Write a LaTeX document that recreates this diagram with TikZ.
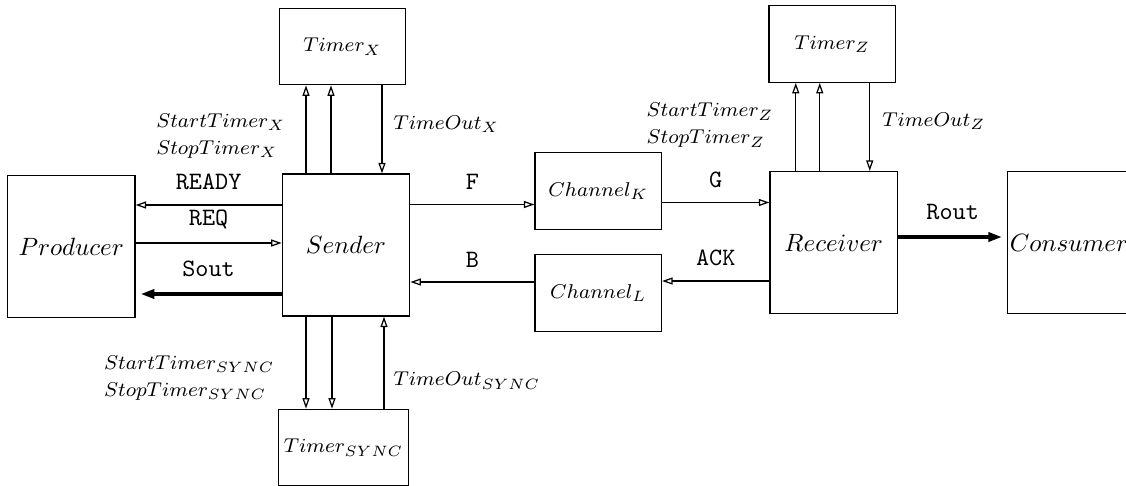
\documentclass[tikz,border=0pt]{standalone}
\usepackage{tikz}
\usetikzlibrary{positioning,arrows.meta}

\newcommand{\lblsize}{\fontsize{8.2}{10.8}\selectfont}

\begin{document}
\begin{tikzpicture}[
        node distance=35pt and 58pt,
        >={Triangle[open,length=4.2pt,width=2.8pt]},
        unit/.style={rectangle, draw=black, line width=0.5pt, minimum width=51pt, minimum height=56.8pt, inner sep=2pt},
        timer/.style={rectangle, draw=black, line width=0.5pt, minimum width=50.6pt, minimum height=30.6pt, inner sep=2pt, font=\lblsize},
        sig/.style={font=\ttfamily},
        lbl/.style={font=\lblsize, align=left, inner sep=1pt},
        arrow/.style={->, line width=0.5pt},
        bigarrow/.style={-{Triangle[length=5.5pt,width=3.6pt]}, line width=1.6pt, shorten >=2pt}
    ]

    \clip (-138.4pt,98pt) rectangle (312pt,-96pt);

    \node[unit] (sender) at (0,0) {$Sender$};
    \node[unit, left=58.4pt of sender, yshift=-0.6pt] (producer) {$Producer$};
    \node[timer, above=35.2pt of sender, xshift=-1.4pt] (timerx) {$Timer_X$};
    \node[timer, below=36.8pt of sender, xshift=-1pt] (timersync) {$Timer_{SYNC}$};

    \node[timer, right=49.6pt of sender.east, yshift=21.6pt] (chk) {$Channel_K$};
    \node[timer, right=49.6pt of sender.east, yshift=-19.2pt] (chl) {$Channel_L$};

    \node[unit, right=143.6pt of sender, yshift=1pt] (receiver) {$Receiver$};
    \node[unit, right=43.6pt of receiver, minimum width=49pt, inner xsep=0.6pt] (consumer) {$Consumer$};
    \node[timer, above=35.2pt of receiver, xshift=-0.6pt] (timerz) {$Timer_Z$};

    % sender and its timers
    \draw[arrow] ([xshift=-16pt]sender.north) coordinate (sx1) -- (sx1 |- timerx.south)
        node[lbl, midway, left=7pt, yshift=-2.6pt] {$StartTimer_X$\\$StopTimer_X$};
    \draw[arrow] ([xshift=-6pt]sender.north) coordinate (sx2) -- (sx2 |- timerx.south);
    \coordinate (sx3) at ([xshift=14.4pt]sender.north);
    \draw[arrow] (sx3 |- timerx.south) -- (sx3)
        node[lbl, midway, right=3.4pt, yshift=2pt] {$TimeOut_X$};

    \draw[arrow] ([xshift=-16pt]sender.south) coordinate (sy1) -- (sy1 |- timersync.north)
        node[lbl, midway, left=11.4pt, yshift=-6.2pt] {$StartTimer_{SYNC}$\\$StopTimer_{SYNC}$};
    \draw[arrow] ([xshift=-5.6pt]sender.south) coordinate (sy2) -- (sy2 |- timersync.north);
    \coordinate (sy3) at ([xshift=15.2pt]sender.south);
    \draw[arrow] (sy3 |- timersync.north) -- (sy3)
        node[lbl, midway, right=2.6pt, yshift=-7.2pt] {$TimeOut_{SYNC}$};

    % receiver and its timer
    \draw[arrow] ([xshift=-15.2pt]receiver.north) coordinate (rz1) -- (rz1 |- timerz.south)
        node[lbl, midway, left=7.8pt, yshift=0.6pt] {$StartTimer_Z$\\$StopTimer_Z$};
    \draw[arrow] ([xshift=-5.6pt]receiver.north) coordinate (rz2) -- (rz2 |- timerz.south);
    \coordinate (rz3) at ([xshift=14.4pt]receiver.north);
    \draw[arrow] (rz3 |- timerz.south) -- (rz3)
        node[lbl, midway, right=3.8pt, yshift=2.4pt] {$TimeOut_Z$};

    % producer and sender
    \draw[arrow] ([yshift=16pt]sender.west) coordinate (p1) -- (p1 -| producer.east)
        node[sig, midway, above=2.6pt] {READY};
    \coordinate (p2) at ([yshift=0.8pt]sender.west);
    \draw[arrow] (p2 -| producer.east) -- (p2)
        node[sig, midway, above=2pt] {REQ};
    \draw[bigarrow] ([yshift=-19.6pt]sender.west) coordinate (p3) -- (p3 -| producer.east)
        node[sig, midway, above=2.6pt] {Sout};

    % channels
    \coordinate (c1) at ([yshift=-5.4pt]chk.west);
    \draw[arrow] (c1 -| sender.east) -- (c1)
        node[sig, midway, above=2.4pt] {F};
    \draw[arrow] ([yshift=-4.6pt]chk.east) coordinate (c2) -- (c2 -| receiver.west)
        node[sig, midway, above=2.4pt] {G};
    \coordinate (c3) at ([yshift=4.8pt]chl.east);
    \draw[arrow] (c3 -| receiver.west) -- (c3)
        node[sig, midway, above=2.4pt] {ACK};
    \draw[arrow] ([yshift=4.4pt]chl.west) coordinate (c4) -- (c4 -| sender.east)
        node[sig, midway, above=2.4pt] {B};

    % receiver and consumer
    \draw[bigarrow] ([yshift=2.2pt]receiver.east) coordinate (r1) -- (r1 -| consumer.west)
        node[sig, midway, above=2.6pt] {Rout};

\end{tikzpicture}
\end{document}
